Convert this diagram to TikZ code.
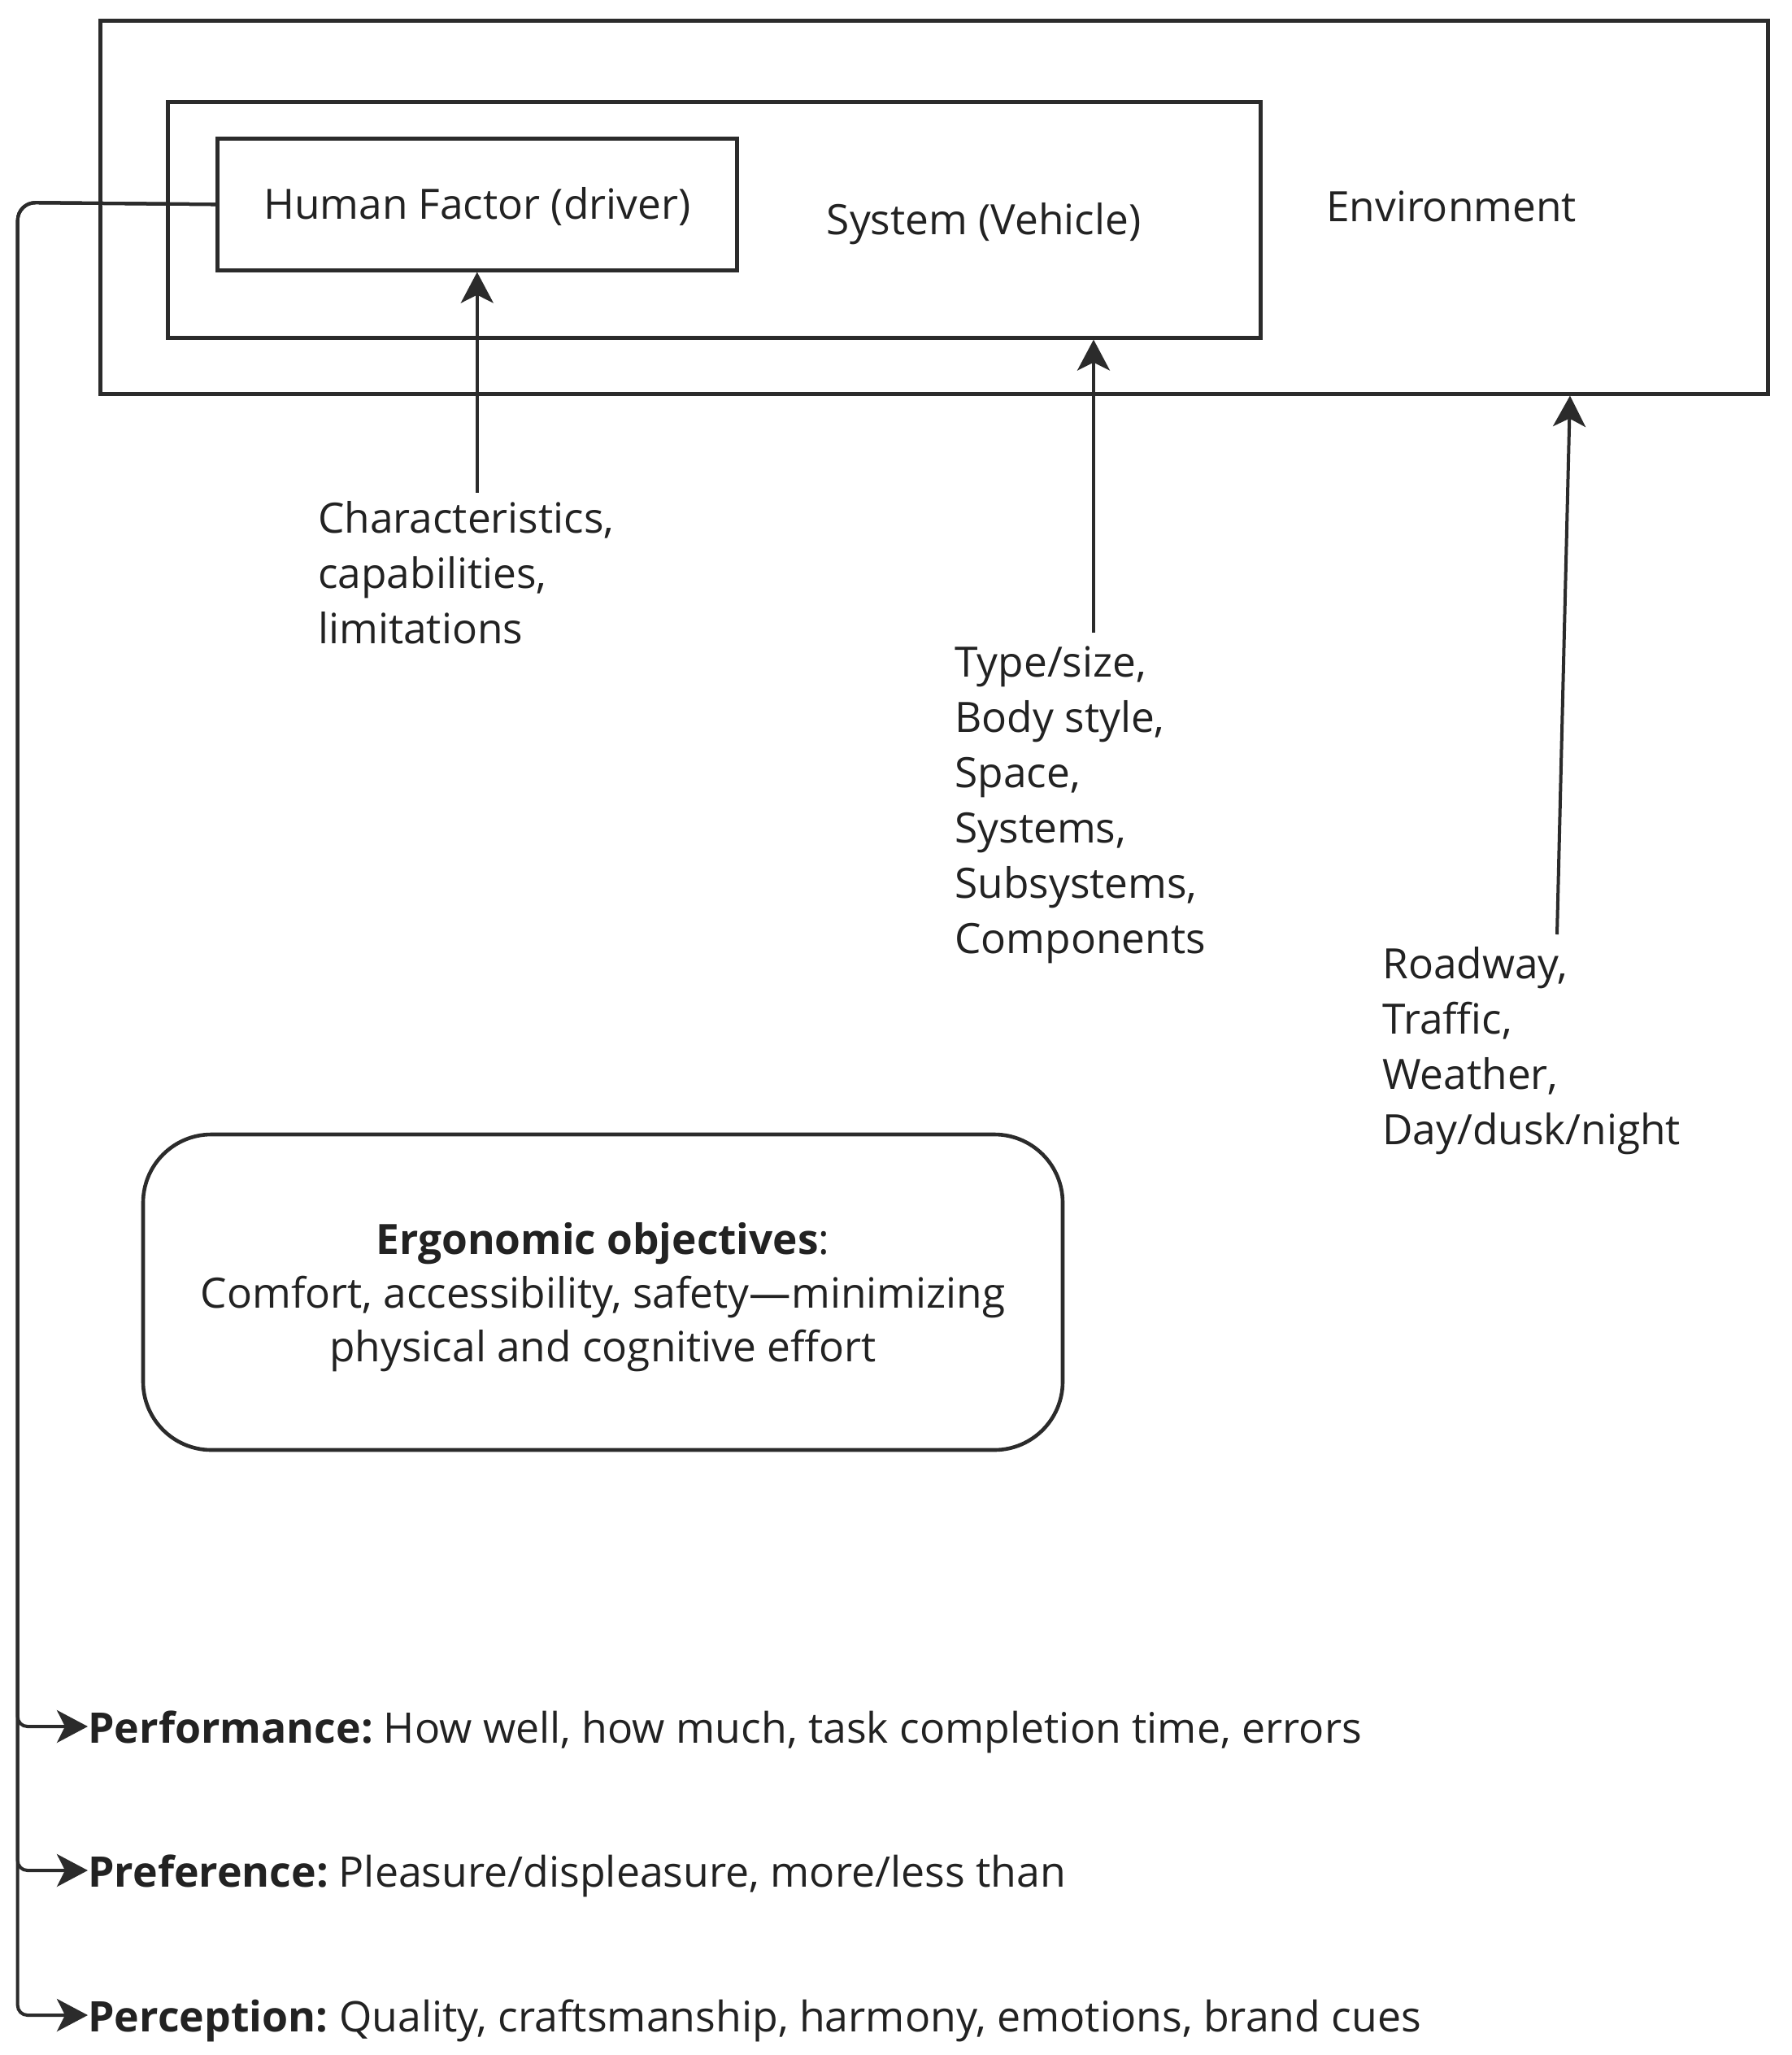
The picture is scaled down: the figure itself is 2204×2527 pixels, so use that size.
\documentclass[tikz,border=0pt]{standalone}
\usepackage{fontspec}
\setmainfont{Open Sans}
\usetikzlibrary{arrows.meta,calc}
\definecolor{ink}{HTML}{2B2B2B}
\definecolor{txt}{HTML}{222222}
\begin{document}
\begin{tikzpicture}[x=0.5pt,y=-0.5pt,
  box/.style={draw=ink, line width=2.3pt, inner sep=0pt, anchor=north west},
  lbl/.style={text=txt, font=\fontsize{25.7}{34}\selectfont, inner sep=0pt, align=left},
  item/.style={lbl, anchor=west, font=\fontsize{25.9}{34}\selectfont},
  conn/.style={draw=ink, line width=2pt, -{Stealth[length=19pt,width=20pt,inset=5pt]}},
]
\useasboundingbox[fill=white] (0,0) rectangle (2204,2527);

% nested frames
\node[box, minimum width=1025.5pt, minimum height=229.5pt] (env) at (121,23) {};
\node[box, minimum width=672pt, minimum height=145pt] (sys) at (204,123) {};
\node[box, minimum width=319.5pt, minimum height=81pt] (hf) at (265,168) {};
\node[lbl] (hftxt) at ($(hf.center)+(0,3)$) {Human Factor (driver)};
\node[lbl] (systxt) at (1210,275) {System (Vehicle)};
\node[lbl] (envtxt) at (1785,254) {Environment};

% input labels
\node[lbl, anchor=west] (char) at (391,704) {Characteristics,\\capabilities,\\limitations};
\node[lbl, anchor=west] (veh) at (1174,990) {Type/size,\\Body style,\\Space,\\Systems,\\Subsystems,\\Components};
\node[lbl, anchor=west] (road) at (1700,1292) {Roadway,\\Traffic,\\Weather,\\Day/dusk/night};

% ergonomic objectives
\node[draw=ink, line width=2.3pt, rounded corners=42pt,
      minimum width=565.5pt, minimum height=194pt] (ergo) at (741.5,1589) {};
\node[lbl, align=center, font=\fontsize{25.7}{33}\selectfont] (ergotxt) at ($(ergo.center)+(0,6)$)
  {\textbf{Ergonomic objectives}:\\Comfort, accessibility, safety—minimizing\\physical and cognitive effort};

% outcome measures
\node[item] (perf) at (108,2130) {\textbf{Performance:}\kern-2.5pt{} How well, how much, task completion time, errors};
\node[item] (pref) at (108,2307) {\textbf{Preference:}\kern-2.5pt{} Pleasure/displeasure, more/less than};
\node[item] (perc) at (108,2485) {\textbf{Perception:}\kern-2pt{} Quality, craftsmanship, harmony, emotions, brand cues};

% input arrows
\path (hf.south) ++(0,271) coordinate (a1);
\coordinate (a2) at (1345,778);
\coordinate (a3) at (1915,1149);
\draw[conn] (a1) -- (hf.south);
\draw[conn] (a2) -- (a2 |- sys.south);
\draw[conn] (a3) -- ($(env.south west)!0.8805!(env.south east)$);

% feedback branches
\coordinate (trunk) at (21.7,249);
\coordinate (b1) at (21.7,2123);
\coordinate (b2) at (21.7,2300);
\coordinate (b3) at (21.7,2478);
\draw[conn] (hf.west) [rounded corners=11pt] -- (trunk) [rounded corners=6pt] -- (b1) -- (b1 -| perf.west);
\draw[conn] (hf.west) [rounded corners=11pt] -- (trunk) [rounded corners=6pt] -- (b2) -- (b2 -| pref.west);
\draw[conn] (hf.west) [rounded corners=11pt] -- (trunk) [rounded corners=6pt] -- (b3) -- (b3 -| perc.west);
\end{tikzpicture}
\end{document}
